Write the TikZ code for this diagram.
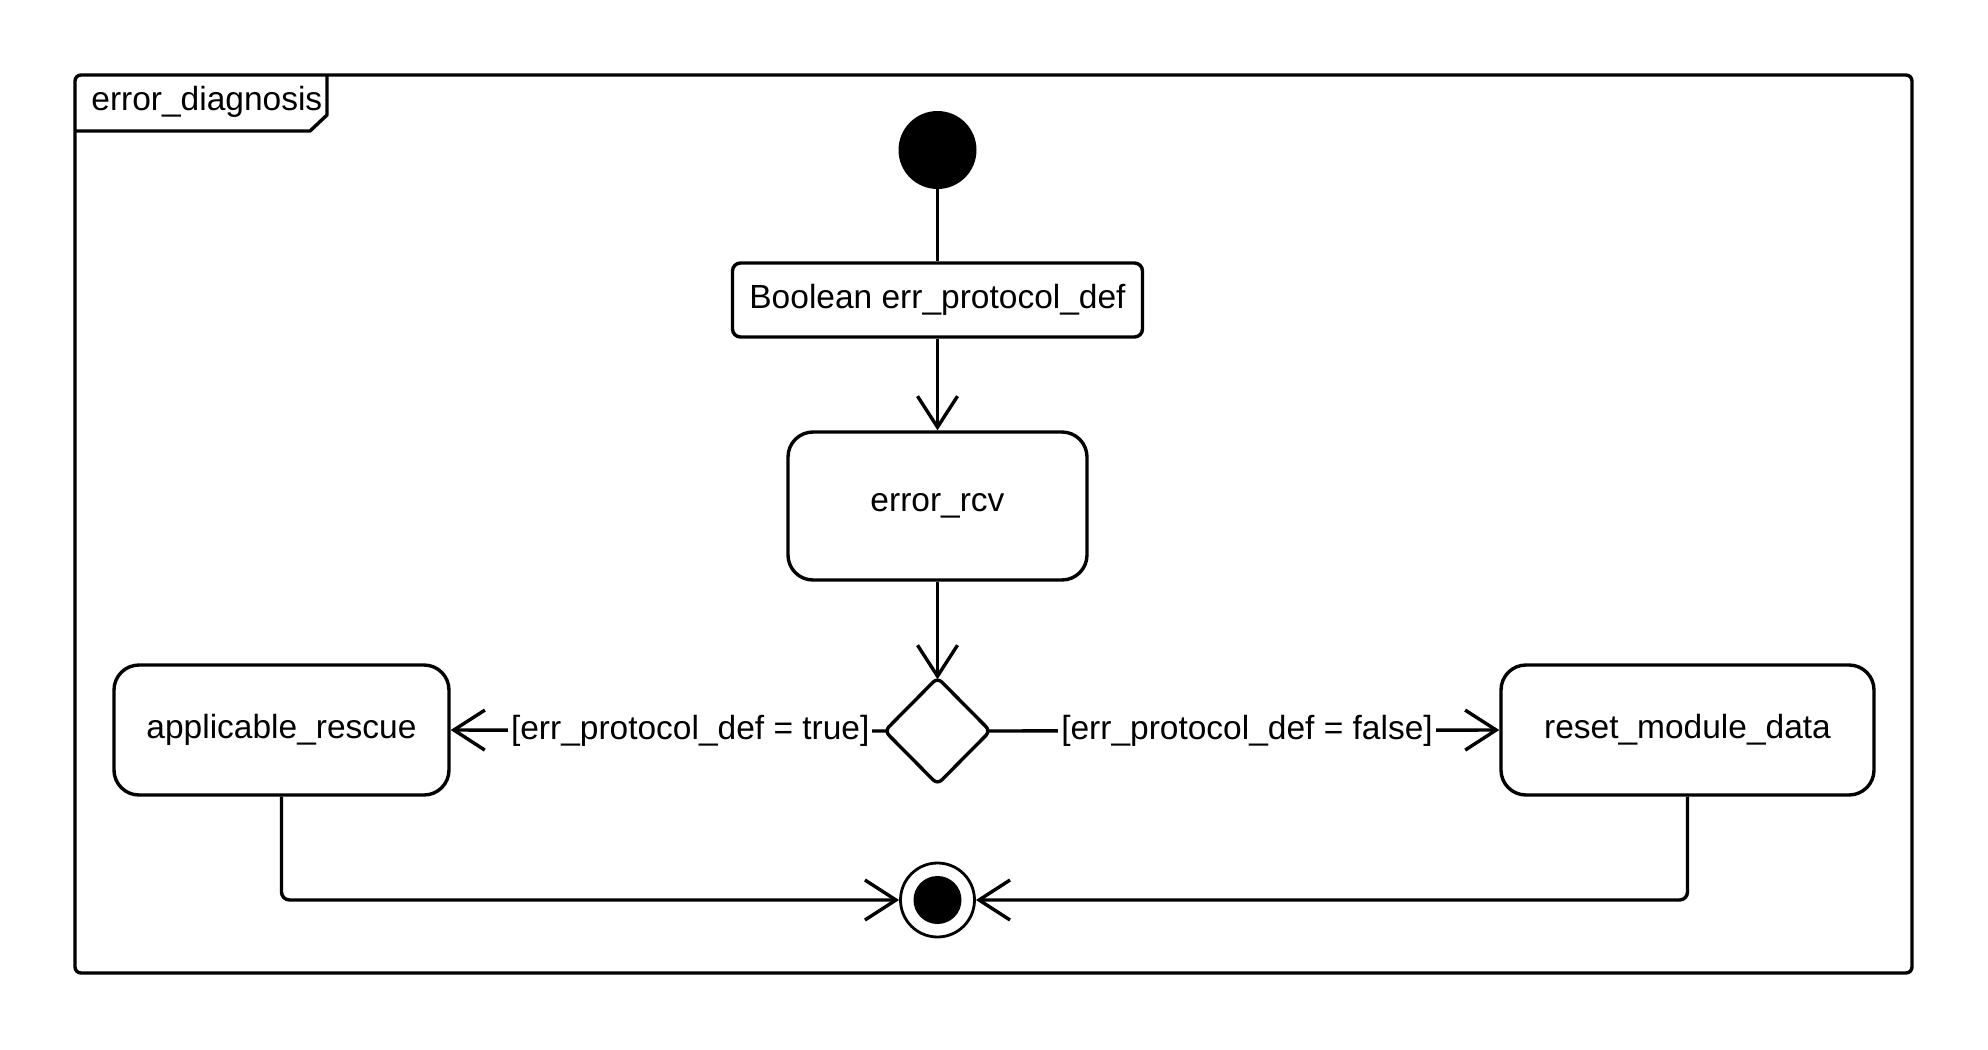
\documentclass[tikz,border=0pt]{standalone}
\usepackage{fontspec}
\setmainfont{Liberation Sans}
\usetikzlibrary{arrows.meta,shapes.geometric}

\begin{document}
\begin{tikzpicture}[x=0.5pt,y=-0.5pt,
  every node/.style={font=\fontsize{16.75}{20}\selectfont},
  thick line/.style={line width=1.7pt},
  flow/.style={thick line,-{Straight Barb[length=15.5pt,width=20pt,line width=1.7pt]}},
  action/.style={draw,thick line,rounded corners=12.5pt,inner sep=0pt,align=center},
  decl/.style={draw,thick line,rounded corners=4pt,inner sep=0pt},
  guard/.style={fill=white,inner sep=1.5pt},
  % the decision diamond has rounded tips, so reach into them
  from tip/.style={shorten <=-2pt},
  to tip/.style={shorten >=-2pt}
]
\useasboundingbox (0,0) rectangle (1988,1050);

% frame with name tab
\draw[thick line,rounded corners=3pt] (75,75) rectangle (1912,973);
\draw[thick line,line join=round] (75,131) -- (310,131) -- (327,115) -- (327,75);
\node[anchor=base west,inner sep=0pt] (title) at (91,110) {error\_diagnosis};

% nodes
\node[circle,fill=black,minimum size=39pt,inner sep=0pt] (init) at (937.5,150) {};
\node[decl,minimum width=205pt,minimum height=37pt] (decl) at (937.5,300) {Boolean err\_protocol\_def};
\node[action,minimum width=149.5pt,minimum height=74pt] (rcv) at (937.5,506) {error\_rcv};
\node[diamond,draw,thick line,rounded corners=3pt,minimum width=53.5pt,minimum height=54pt,inner sep=0pt] (dec) at (937.5,731) {};
\node[action,minimum width=167.5pt,minimum height=65pt] (rescue) at (281.5,730) {applicable\_rescue};
\node[action,minimum width=186.5pt,minimum height=65pt] (reset) at (1687.5,730) {reset\_module\_data};
\node[circle,draw,line width=1.4pt,fill=white,minimum size=37pt,inner sep=0pt] (final) at (937.5,900) {};
\node[circle,fill=black,minimum size=24pt,inner sep=0pt] (finaldot) at (final.center) {};

% transitions
\draw[thick line] (init) -- (decl);
\draw[flow] (decl) -- (rcv);
\draw[flow,to tip] (rcv) -- (dec.north);
\draw[flow,from tip] (dec.west) -- node[guard,pos=0.445] (gtrue) {[err\_protocol\_def = true]} (rescue.east);
\draw[flow,from tip] (dec.east) -- node[guard,pos=0.502] (gfalse) {[err\_protocol\_def = false]} (reset.west);
\draw[flow,rounded corners=4pt] (rescue.south) |- (final.west);
\draw[flow,rounded corners=4pt] (reset.south) |- (final.east);
\end{tikzpicture}
\end{document}
